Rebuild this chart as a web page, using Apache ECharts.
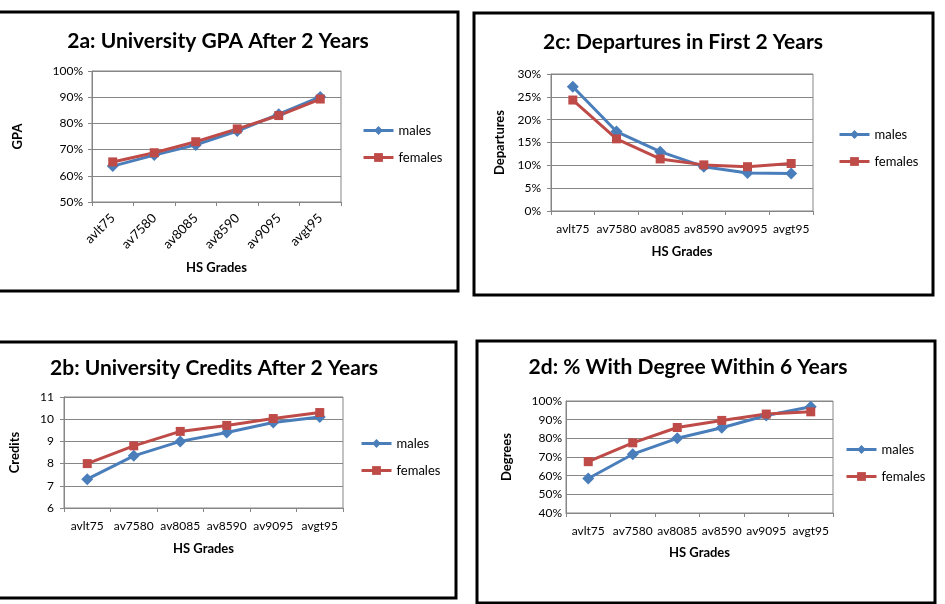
<!DOCTYPE html>
<html>
<head>
<meta charset="utf-8">
<script src="https://cdn.jsdelivr.net/npm/echarts@6/dist/echarts.min.js"></script>
<style>
  html, body { margin: 0; padding: 0; background: #fff; }
  #chart { width: 945px; height: 604px; }
</style>
</head>
<body>
<div id="chart"></div>
<script>
  var categories = ['avlt75', 'av7580', 'av8085', 'av8590', 'av9095', 'avgt95']
  var gpaMales = [63.7, 67.9, 71.8, 77.1, 83.5, 90.1]
  var gpaFemales = [65.3, 68.8, 73.0, 77.9, 83.0, 89.3]
  var departMales = [27.2, 17.4, 13.0, 9.7, 8.3, 8.2]
  var departFemales = [24.3, 15.8, 11.4, 10.1, 9.7, 10.4]
  var creditMales = [7.3, 8.35, 9.0, 9.4, 9.85, 10.1]
  var creditFemales = [8.0, 8.8, 9.45, 9.72, 10.03, 10.3]
  var degreeMales = [58.5, 71.5, 80.0, 85.7, 92.2, 96.9]
  var degreeFemales = [67.5, 77.6, 85.8, 89.6, 93.0, 94.2]

  var FONT = 'Lato'
  var BLUE = '#4A7EBB'
  var RED = '#BE4B48'
  var GRID_GRAY = '#868686'

  // panel layout: plot box, title centre, legend spot, axis names
  var panels = [
    { title: '2a: University GPA After 2 Years', tx: 218, ty: 31, grid: [92, 71, 249, 131],
      yName: 'GPA', yGap: 68, min: 50, max: 100, step: 10, pct: true, rotate: 45, xGap: 59,
      legend: [362, 124], males: gpaMales, females: gpaFemales, labelMargin: 9, xMargin: 14, xFont: 13 },
    { title: '2c: Departures in First 2 Years', tx: 683, ty: 32, grid: [551, 74, 262, 137],
      yName: 'Departures', yGap: 45, min: 0, max: 30, step: 5, pct: true, rotate: 0, xGap: 34,
      legend: [838, 128], males: departMales, females: departFemales, labelMargin: 10, xMargin: 12, xFont: 12 },
    { title: '2b: University Credits After 2 Years', tx: 214, ty: 358, grid: [64, 397, 279, 111],
      yName: 'Credits', yGap: 43, min: 6, max: 11, step: 1, pct: false, rotate: 0, xGap: 34,
      legend: [360, 437], males: creditMales, females: creditFemales, labelMargin: 10, xMargin: 12, xFont: 12 },
    { title: '2d: % With Degree Within 6 Years', tx: 688, ty: 357, grid: [566, 401, 267, 112],
      yName: 'Degrees', yGap: 53, min: 40, max: 100, step: 10, pct: true, rotate: 0, xGap: 33,
      legend: [845, 443], males: degreeMales, females: degreeFemales, labelMargin: 4, xMargin: 12, xFont: 12 }
  ]

  var option = {
    backgroundColor: '#fff',
    animation: false,
    textStyle: { fontFamily: FONT },
    title: [],
    legend: [],
    grid: [],
    xAxis: [],
    yAxis: [],
    series: [],
    graphic: [
      // black frames around each panel
      { type: 'rect', shape: { x: -3, y: 12, width: 461, height: 279 }, style: { fill: 'none', stroke: '#000', lineWidth: 3 } },
      { type: 'rect', shape: { x: 474, y: 13, width: 459, height: 282 }, style: { fill: 'none', stroke: '#000', lineWidth: 3 } },
      { type: 'rect', shape: { x: -3, y: 342, width: 459, height: 256 }, style: { fill: 'none', stroke: '#000', lineWidth: 3 } },
      { type: 'rect', shape: { x: 477, y: 341, width: 458, height: 262 }, style: { fill: 'none', stroke: '#000', lineWidth: 3 } }
    ]
  }

  panels.forEach(function (p, i) {
    option.title.push({
      text: p.title,
      left: p.tx,
      top: p.ty,
      padding: 0,
      textAlign: 'center',
      textStyle: { fontFamily: FONT, fontSize: 21, fontWeight: 'bold', color: '#000' }
    })
    option.legend.push({
      orient: 'vertical',
      left: p.legend[0],
      top: p.legend[1],
      padding: 0,
      itemWidth: 30,
      itemHeight: 11,
      itemGap: 14,
      itemTextGap: 2,
      lineStyle: { width: 3 },
      data: ['males', 'females'],
      textStyle: { fontFamily: FONT, fontSize: 13, color: '#000' }
    })
    option.grid.push({
      left: p.grid[0], top: p.grid[1], width: p.grid[2], height: p.grid[3],
      show: true, borderColor: GRID_GRAY, borderWidth: 1, containLabel: false
    })
    option.xAxis.push({
      type: 'category',
      gridIndex: i,
      data: categories,
      boundaryGap: true,
      name: 'HS Grades',
      nameLocation: 'middle',
      nameGap: p.xGap,
      nameTextStyle: { fontFamily: FONT, fontSize: 13, fontWeight: 'bold', color: '#000' },
      axisLine: { lineStyle: { color: GRID_GRAY } },
      axisTick: { show: true, length: 4, lineStyle: { color: GRID_GRAY } },
      axisLabel: {
        interval: 0, rotate: p.rotate, margin: p.xMargin,
        fontFamily: FONT, fontSize: p.xFont, color: '#000'
      }
    })
    option.yAxis.push({
      type: 'value',
      gridIndex: i,
      min: p.min,
      max: p.max,
      interval: p.step,
      name: p.yName,
      nameLocation: 'middle',
      nameGap: p.yGap,
      nameTextStyle: { fontFamily: FONT, fontSize: 13, fontWeight: 'bold', color: '#000' },
      axisLine: { show: true, lineStyle: { color: GRID_GRAY } },
      axisTick: { show: i !== 3, length: 4, lineStyle: { color: GRID_GRAY } },
      splitLine: { lineStyle: { color: GRID_GRAY } },
      axisLabel: {
        margin: p.labelMargin,
        fontFamily: FONT, fontSize: 12, color: '#000',
        formatter: p.pct ? '{value}%' : '{value}'
      }
    })
    option.series.push({
      name: 'males', type: 'line', xAxisIndex: i, yAxisIndex: i,
      data: p.males, symbol: 'diamond', symbolSize: 12,
      lineStyle: { color: BLUE, width: 3 }, itemStyle: { color: BLUE }
    })
    option.series.push({
      name: 'females', type: 'line', xAxisIndex: i, yAxisIndex: i,
      data: p.females, symbol: 'rect', symbolSize: 9,
      lineStyle: { color: RED, width: 3 }, itemStyle: { color: RED }
    })
  })

  var myChart = echarts.init(document.getElementById('chart'))
  myChart.setOption(option)
</script>
</body>
</html>
